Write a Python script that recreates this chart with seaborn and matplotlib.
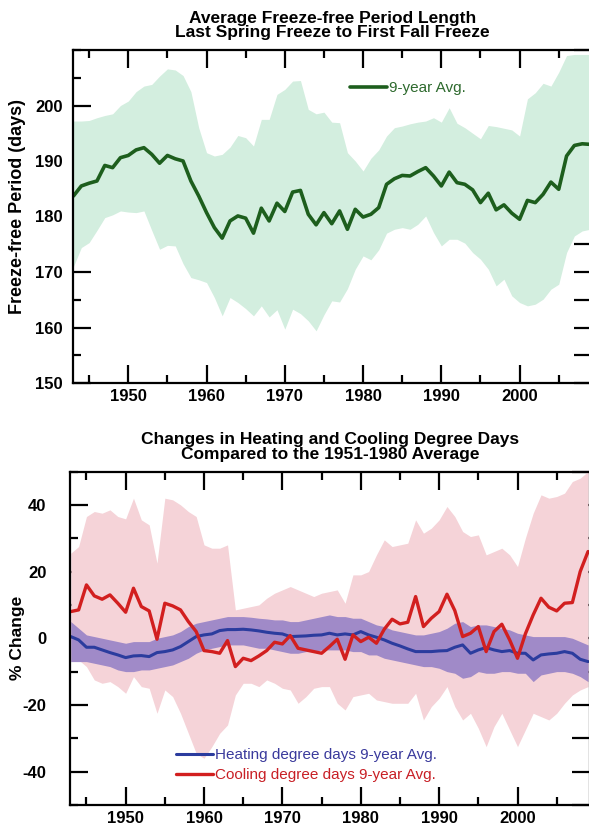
import numpy as np
import pandas as pd
import matplotlib
matplotlib.use("Agg")
import matplotlib.pyplot as plt
import seaborn as sns
from matplotlib.ticker import MultipleLocator, FixedLocator

# ====================================
# DADOS
# ====================================

anos = list(range(1943, 2010))

freeze_media = [
    183.7, 185.5, 186.0, 186.4, 189.2, 188.8, 190.6, 191.0, 192.0, 192.4,
    191.2, 189.6, 191.0, 190.4, 190.0, 186.4, 183.7, 180.7, 178.0, 176.1,
    179.2, 180.1, 179.7, 177.0, 181.5, 179.2, 182.4, 180.9, 184.4, 184.7,
    180.4, 178.5, 180.7, 178.7, 181.0, 177.7, 181.3, 179.9, 180.4, 181.6,
    185.8, 186.8, 187.4, 187.3, 188.1, 188.8, 187.3, 185.5, 188.0, 186.1,
    185.8, 184.8, 182.5, 184.2, 181.2, 182.1, 180.6, 179.5, 182.9, 182.5,
    184.0, 186.2, 184.9, 190.9, 192.8, 193.1, 193.0,
]

freeze_sup = [
    197.2, 197.2, 197.3, 197.8, 198.2, 198.5, 200.0, 200.8, 202.5, 203.5,
    203.8, 205.3, 206.6, 206.4, 205.4, 202.5, 196.0, 191.5, 190.9, 191.2,
    192.5, 194.6, 194.2, 192.7, 197.5, 197.5, 202.0, 202.9, 204.4, 204.5,
    199.3, 198.5, 198.8, 197.0, 196.9, 191.5, 190.0, 188.2, 190.5, 192.0,
    194.5, 196.0, 196.3, 196.7, 197.0, 197.2, 197.8, 197.0, 199.6, 196.8,
    196.0, 195.0, 194.0, 196.4, 196.2, 195.9, 195.6, 194.5, 201.2, 202.3,
    204.0, 203.5, 206.0, 209.0, 209.2, 209.2, 209.2,
]

freeze_inf = [
    171.0, 174.4, 175.3, 177.5, 179.8, 180.3, 181.0, 180.8, 180.7, 181.0,
    177.5, 174.1, 174.8, 174.7, 171.5, 169.0, 168.6, 168.1, 165.4, 162.1,
    165.4, 164.5, 163.4, 162.1, 163.9, 161.9, 163.2, 159.7, 163.3, 162.5,
    161.2, 159.4, 162.3, 164.8, 164.6, 167.0, 170.5, 172.9, 172.2, 174.0,
    177.0, 177.7, 178.0, 177.7, 178.6, 180.1, 177.1, 174.7, 175.9, 175.9,
    175.2, 173.5, 172.3, 170.5, 167.5, 168.7, 165.7, 164.5, 163.9, 164.2,
    165.1, 166.9, 167.8, 173.5, 176.5, 177.4, 177.7,
]

aquec_media = [
    0.5, -0.5, -2.7, -2.7, -3.5, -4.3, -5.0, -5.8, -5.3, -5.2,
    -5.5, -4.3, -4.0, -3.5, -2.5, -1.0, 0.5, 1.0, 1.3, 2.3,
    2.6, 2.6, 2.7, 2.5, 2.2, 1.8, 1.5, 1.3, 0.5, 0.6,
    0.7, 0.9, 1.0, 1.5, 1.0, 1.3, 1.0, 2.0, 1.0, 0.3,
    -0.5, -1.5, -2.3, -3.2, -4.0, -4.0, -4.0, -3.8, -3.7, -2.7,
    -2.0, -4.5, -3.5, -2.8, -3.5, -4.0, -3.7, -4.5, -4.5, -6.5,
    -5.0, -4.7, -4.5, -4.0, -4.5, -6.3, -7.0,
]

aquec_sup = [
    5.0, 3.0, 1.0, 0.5, 0.0, -0.5, -1.0, -1.5, -1.0, -1.0,
    -1.0, 0.0, 0.5, 1.0, 2.0, 3.5, 4.5, 5.0, 5.5, 6.0,
    6.5, 6.5, 6.5, 6.3, 6.0, 5.8, 5.5, 5.5, 5.0, 5.0,
    5.5, 6.0, 6.5, 7.0, 6.5, 6.5, 6.0, 6.0, 5.0, 4.0,
    3.5, 2.5, 2.0, 1.5, 1.0, 1.0, 1.5, 2.0, 3.0, 4.5,
    5.0, 3.5, 4.0, 4.0, 3.5, 3.0, 2.5, 1.5, 1.0, 0.5,
    0.5, 0.5, 0.5, 0.5, 0.0, -1.0, -2.0,
]

aquec_inf = [
    -7.0, -7.0, -7.0, -7.5, -8.0, -8.5, -9.5, -10.0, -10.0, -9.5,
    -9.5, -9.0, -8.5, -8.0, -7.0, -6.0, -4.5, -3.5, -3.0, -2.5,
    -2.0, -2.0, -2.0, -2.5, -3.0, -3.0, -3.5, -4.0, -4.5, -4.5,
    -4.0, -4.0, -3.5, -3.5, -3.5, -3.5, -4.0, -4.0, -5.0, -5.0,
    -6.0, -6.5, -7.0, -7.5, -8.0, -8.5, -8.5, -9.0, -10.0, -10.5,
    -12.0, -11.5, -10.0, -10.5, -10.5, -10.0, -10.0, -10.5, -10.5, -13.0,
    -11.0, -10.5, -10.0, -10.0, -10.5, -11.5, -13.0,
]

resfr_media = [
    8.0, 8.5, 16.0, 12.7, 11.7, 13.0, 10.5, 7.8, 15.0, 9.5,
    8.2, -0.3, 10.5, 9.7, 8.5, 5.0, 2.0, -3.7, -4.0, -4.5,
    -0.7, -8.5, -6.0, -6.7, -5.3, -3.7, -1.2, -1.7, 0.8, -3.0,
    -3.5, -4.0, -4.5, -2.5, -0.3, -6.3, 1.0, -1.0, 0.3, -1.5,
    2.7, 5.7, 4.3, 4.8, 12.5, 3.5, 6.0, 8.0, 13.2, 8.3,
    0.5, 1.5, 3.5, -4.0, 2.0, 4.2, -0.5, -6.0, 1.3, 7.0,
    12.0, 9.3, 8.2, 10.5, 10.7, 20.0, 26.0,
]

resfr_sup = [
    25.5, 27.5, 36.5, 38.0, 37.5, 38.5, 36.5, 35.8, 42.0, 35.5,
    34.0, 22.5, 42.0, 41.5, 40.0, 38.0, 36.5, 28.0, 27.0, 27.0,
    28.0, 8.5, 9.0, 9.5, 10.0, 12.0, 13.5, 14.5, 15.5, 14.5,
    13.5, 12.5, 13.5, 14.0, 14.5, 10.5, 19.0, 19.0, 20.0, 25.0,
    29.5, 27.5, 28.0, 28.5, 35.5, 31.5, 33.0, 35.5, 39.5, 36.5,
    32.0, 30.5, 31.0, 25.0, 26.0, 27.0, 25.0, 21.5, 30.0, 37.5,
    43.0, 42.0, 42.5, 43.5, 47.0, 48.0, 50.0,
]

resfr_inf = [
    -7.0, -6.5, -8.5, -12.5, -13.5, -13.0, -14.5, -16.5, -11.5, -14.5,
    -15.0, -22.5, -15.5, -17.5, -22.5, -28.5, -34.5, -36.0, -32.5, -28.5,
    -26.0, -17.0, -13.5, -13.5, -14.5, -12.5, -13.5, -15.0, -15.5, -19.5,
    -17.5, -15.0, -14.5, -14.5, -19.5, -21.5, -17.5, -17.0, -16.5, -18.5,
    -19.0, -19.5, -19.5, -19.5, -16.5, -24.5, -20.5, -18.0, -14.5, -20.5,
    -24.5, -22.5, -27.0, -32.5, -26.5, -22.5, -27.5, -32.5, -27.5, -22.5,
    -23.5, -24.5, -22.5, -19.5, -17.0, -15.5, -14.5,
]

ticks_freeze = [150, 160, 170, 180, 190, 200]
ticks_graus = [-40, -20, 0, 20, 40]

df_freeze = pd.DataFrame({
    "ano": anos,
    "media": freeze_media,
    "sup": freeze_sup,
    "inf": freeze_inf
})

df_graus = pd.DataFrame({
    "ano": anos,
    "aquec": aquec_media,
    "aquec_sup": aquec_sup,
    "aquec_inf": aquec_inf,
    "resfr": resfr_media,
    "resfr_sup": resfr_sup,
    "resfr_inf": resfr_inf
})

# ====================================
# ESTILO
# ====================================

sns.set_style("ticks")
plt.rcParams["font.family"] = ["Liberation Sans", "DejaVu Sans"]
plt.rcParams["font.weight"] = "bold"
plt.rcParams["axes.labelweight"] = "bold"
plt.rcParams["axes.titleweight"] = "bold"
plt.rcParams["axes.unicode_minus"] = False
for chave in ["text.color", "axes.labelcolor", "xtick.color",
              "ytick.color", "axes.edgecolor"]:
    plt.rcParams[chave] = "black"

VERDE = "#1d5e1d"
VERDE_BANDA = "#d3eedf"
AZUL = "#2b3c9e"
ROXO = "#a08ac8"
VERMELHO = "#d21f1f"
ROSA = "#f5d3d8"

W, H = 589, 825
fig = plt.figure(figsize=(W / 100, H / 100), dpi=100)


def eixo_px(esq, topo, dir, base):
    return fig.add_axes([esq / W, 1 - base / H, (dir - esq) / W, (base - topo) / H])


def formatar(ax, ticks_y, menor_y, dir_y, pad_y):
    ax.set_xlim(1942.9, 2009.25)
    ax.xaxis.set_major_locator(MultipleLocator(10))
    ax.xaxis.set_minor_locator(MultipleLocator(5))
    ax.yaxis.set_major_locator(FixedLocator(ticks_y))
    ax.yaxis.set_minor_locator(MultipleLocator(menor_y))
    ax.tick_params(which="both", direction="in", top=True, right=False,
                   width=1.6, labelsize=12)
    ax.tick_params(which="major", length=13)
    ax.tick_params(which="minor", length=6)
    ax.tick_params(axis="x", pad=4)
    ax.tick_params(axis="y", pad=pad_y)
    for s in ax.spines.values():
        s.set_linewidth(1.6)
    sec = ax.secondary_yaxis("right")
    sec.yaxis.set_major_locator(MultipleLocator(dir_y))
    sec.tick_params(direction="in", length=13, width=1.6, labelright=False)
    ax.set_xlabel("")


# ====================================
# GRÁFICO 1 - PERÍODO SEM GEADA
# ====================================

ax1 = eixo_px(72.7, 50, 592, 383)

ax1.fill_between(df_freeze["ano"], df_freeze["inf"], df_freeze["sup"],
                 color=VERDE_BANDA, lw=0)

sns.lineplot(
    data=df_freeze,
    x="ano",
    y="media",
    color=VERDE,
    lw=2.6,
    ax=ax1,
    label="9-year Avg."
)

ax1.set_ylim(150, 210)
formatar(ax1, ticks_freeze, 5, 5, 7)

ax1.set_title("Average Freeze-free Period Length\nLast Spring Freeze to First Fall Freeze",
              fontsize=12.5, linespacing=1.0, pad=9)
ax1.set_ylabel("Freeze-free Period (days)", fontsize=13)
ax1.yaxis.set_label_coords(-0.09, 0.53)

ax1.legend(loc="center left", bbox_to_anchor=(350 / W, 1 - 88 / H),
           bbox_transform=fig.transFigure, frameon=False,
           borderpad=0, borderaxespad=0, handlelength=2.4, handletextpad=0.15,
           prop={"size": 11, "weight": "normal"}, labelcolor=["#2e6a2e"])

# ====================================
# GRÁFICO 2 - GRAUS-DIA
# ====================================

ax2 = eixo_px(70, 471.5, 590, 805)

ax2.fill_between(df_graus["ano"], df_graus["resfr_inf"], df_graus["resfr_sup"],
                 color=ROSA, lw=0)
ax2.fill_between(df_graus["ano"], df_graus["aquec_inf"], df_graus["aquec_sup"],
                 color=ROXO, lw=0)

sns.lineplot(
    data=df_graus,
    x="ano",
    y="aquec",
    color=AZUL,
    lw=2.2,
    ax=ax2,
    label="Heating degree days 9-year Avg."
)

sns.lineplot(
    data=df_graus,
    x="ano",
    y="resfr",
    color=VERMELHO,
    lw=2.4,
    ax=ax2,
    label="Cooling degree days 9-year Avg."
)

ax2.set_ylim(-50, 50)
formatar(ax2, ticks_graus, 10, 10, 17)

ax2.set_title("Changes in Heating and Cooling Degree Days\nCompared to the 1951-1980 Average",
              fontsize=12.5, linespacing=1.0, pad=9)
ax2.set_ylabel("% Change", fontsize=12.5)
ax2.yaxis.set_label_coords(-0.087, 0.5)

ax2.legend(loc="center left", bbox_to_anchor=(176 / W, 1 - 765 / H),
           bbox_transform=fig.transFigure, frameon=False,
           borderpad=0, borderaxespad=0, handlelength=2.4, handletextpad=0.15,
           labelspacing=0.4,
           prop={"size": 11, "weight": "normal"},
           labelcolor=["#3a3a9c", "#c81f25"])

plt.savefig("out.png", dpi=100, facecolor="white")
plt.close()
